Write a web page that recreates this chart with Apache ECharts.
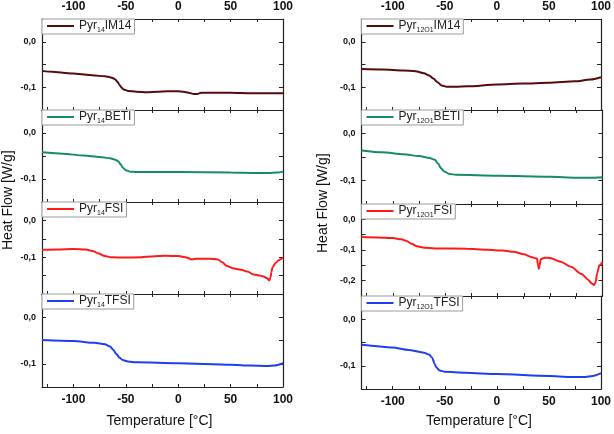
<!DOCTYPE html>
<html>
<head>
<meta charset="utf-8">
<script src="https://cdn.jsdelivr.net/npm/echarts@6/dist/echarts.min.js"></script>
<style>
html,body{margin:0;padding:0;background:#fff;}
#chart{width:614px;height:434px;}
</style>
</head>
<body>
<div id="chart"></div>
<script>
// ---- axis settings ----
const xMin = -130, xMax = 100;
const xTickValues = [-125, -100, -75, -50, -25, 0, 25, 50, 75, 100];
const xLabelValues = [-100, -50, 0, 50, 100];
const xTitle = 'Temperature [°C]';
const yTitle = 'Heat Flow [W/g]';

// ---- legend names: prefix, subscript, suffix ----
const seriesSub = ['14', '14', '14', '14', '12O1', '12O1', '12O1', '12O1'];
const seriesSuffix = ['IM14', 'BETI', 'FSI', 'TFSI', 'IM14', 'BETI', 'FSI', 'TFSI'];
const yMins = [-0.15, -0.15, -0.2, -0.15, -0.15, -0.15, -0.25, -0.15];
const yMaxs = [0.05, 0.05, 0.05, 0.05, 0.05, 0.05, 0.05, 0.05];

// ---- left column (Pyr14) ----
const L_IM14_T = [-130,-120,-110,-100,-90,-80,-70,-65,-62,-60,-58,-56,-54,-52,-48,-40,-30,-20,-10,0,5,10,15,18,22,30,50,70,90,100];
const L_IM14_Q = [-0.064,-0.066,-0.068,-0.070,-0.072,-0.074,-0.076,-0.078,-0.080,-0.083,-0.088,-0.095,-0.101,-0.105,-0.108,-0.110,-0.111,-0.110,-0.109,-0.109,-0.110,-0.112,-0.115,-0.115,-0.112,-0.112,-0.112,-0.113,-0.113,-0.113];

const L_BETI_T = [-130,-110,-90,-75,-65,-60,-57,-55,-53,-50,-46,-40,0,50,75,85,95,100];
const L_BETI_Q = [-0.042,-0.045,-0.049,-0.052,-0.055,-0.058,-0.062,-0.068,-0.075,-0.081,-0.084,-0.085,-0.085,-0.086,-0.087,-0.087,-0.086,-0.084];

const L_FSI_T = [-130,-115,-100,-88,-82,-76,-70,-64,-50,-35,-25,-12,0,8,13,18,30,38,42,46,52,60,66,72,78,82,85,87,88,89,90,93,96,100];
const L_FSI_Q = [-0.080,-0.079,-0.078,-0.079,-0.083,-0.090,-0.097,-0.100,-0.101,-0.100,-0.098,-0.096,-0.097,-0.101,-0.106,-0.104,-0.104,-0.106,-0.114,-0.123,-0.130,-0.134,-0.139,-0.147,-0.150,-0.153,-0.158,-0.163,-0.155,-0.140,-0.127,-0.115,-0.108,-0.101];

const L_TFSI_T = [-130,-100,-80,-70,-65,-62,-59,-56,-53,-48,-40,0,50,70,85,92,100];
const L_TFSI_Q = [-0.049,-0.051,-0.055,-0.058,-0.063,-0.070,-0.079,-0.087,-0.092,-0.095,-0.097,-0.099,-0.102,-0.104,-0.105,-0.104,-0.099];

// ---- right column (Pyr12O1) ----
const R_IM14_T = [-130,-110,-90,-78,-70,-65,-61,-57,-53,-48,-40,-28,0,25,50,75,90,100];
const R_IM14_Q = [-0.060,-0.061,-0.063,-0.065,-0.069,-0.074,-0.081,-0.089,-0.096,-0.099,-0.099,-0.098,-0.094,-0.092,-0.090,-0.087,-0.083,-0.078];

const R_BETI_T = [-130,-110,-90,-75,-65,-60,-57,-54,-51,-46,-40,0,50,75,90,100];
const R_BETI_Q = [-0.036,-0.040,-0.044,-0.048,-0.052,-0.056,-0.064,-0.074,-0.081,-0.086,-0.088,-0.090,-0.092,-0.094,-0.094,-0.093];

const R_FSI_T = [-130,-115,-100,-92,-87,-82,-77,-70,-55,-30,-10,5,15,25,32,36,37.5,38.5,39.2,40,41,45,50,60,70,80,86,90,92,93.5,95,97,100];
const R_FSI_Q = [-0.058,-0.059,-0.061,-0.065,-0.071,-0.080,-0.088,-0.093,-0.095,-0.096,-0.099,-0.102,-0.106,-0.114,-0.123,-0.127,-0.128,-0.150,-0.161,-0.150,-0.130,-0.125,-0.126,-0.138,-0.155,-0.178,-0.196,-0.210,-0.214,-0.205,-0.175,-0.150,-0.139];

const R_TFSI_T = [-130,-115,-100,-85,-70,-65,-62,-60,-58,-55,-50,-30,0,50,70,85,92,100];
const R_TFSI_Q = [-0.055,-0.058,-0.061,-0.066,-0.072,-0.076,-0.083,-0.095,-0.104,-0.110,-0.113,-0.115,-0.118,-0.122,-0.124,-0.124,-0.122,-0.116];

const seriesT = [L_IM14_T, L_BETI_T, L_FSI_T, L_TFSI_T, R_IM14_T, R_BETI_T, R_FSI_T, R_TFSI_T];
const seriesQ = [L_IM14_Q, L_BETI_Q, L_FSI_Q, L_TFSI_Q, R_IM14_Q, R_BETI_Q, R_FSI_Q, R_TFSI_Q];

// ---- layout / style ----
const colors = ['#560b0b', '#178c64', '#ff1a1a', '#1f3fef'];
const colLeft = [42, 361.5];
const colWidth = 241;
const rowTops = [[19, 110, 202, 294, 387], [19, 110, 204, 296, 389]];
const frameColor = '#222';
const font = 'Liberation Sans, Arial, sans-serif';

const grids = [], xAxes = [], yAxes = [], series = [], legends = [];

for (let i = 0; i < 8; i++) {
  const side = i < 4 ? 0 : 1;
  const row = i % 4;
  const top = rowTops[side][row];
  const h = rowTops[side][row + 1] - top;
  grids.push({ left: colLeft[side], width: colWidth, top: top, height: h, show: false });

  const baseX = {
    gridIndex: i, type: 'value', min: xMin, max: xMax,
    axisLine: { show: true, onZero: false, lineStyle: { color: frameColor, width: 1.2 } },
    axisTick: { show: true, inside: true, length: 3, customValues: xTickValues, lineStyle: { color: frameColor } },
    splitLine: { show: false }
  };
  xAxes.push(Object.assign({}, baseX, {
    position: 'bottom',
    axisLabel: { show: row === 3, customValues: xLabelValues, fontFamily: font, fontWeight: 'bold', fontSize: 12, color: '#111', margin: 7 }
  }));
  xAxes.push(Object.assign({}, baseX, {
    position: 'top',
    axisLabel: { show: row === 0, customValues: xLabelValues, fontFamily: font, fontWeight: 'bold', fontSize: 12, color: '#111', margin: 6 }
  }));

  const ymin = yMins[i], ymax = yMaxs[i];
  const baseY = {
    gridIndex: i, type: 'value', min: ymin, max: ymax, interval: 0.05,
    axisLine: { show: true, onZero: false, lineStyle: { color: frameColor, width: 1.2 } },
    axisTick: { show: true, inside: true, length: 4, lineStyle: { color: frameColor } },
    splitLine: { show: false }
  };
  yAxes.push(Object.assign({}, baseY, {
    position: 'left',
    axisLabel: {
      show: true, fontFamily: font, fontWeight: 'bold', fontSize: 9, color: '#111', margin: 6,
      formatter: function (v) {
        const r = Math.round(v * 100) / 100;
        const tenth = Math.round(r * 10);
        if (Math.abs(r * 10 - tenth) > 1e-6) return '';
        if (r <= ymin + 1e-6 || r >= ymax - 1e-6) return '';
        return (tenth / 10).toFixed(1).replace('.', ',');
      }
    }
  }));
  yAxes.push(Object.assign({}, baseY, { position: 'right', axisLabel: { show: false } }));

  const name = 'Pyr' + seriesSub[i] + seriesSuffix[i];
  const data = seriesT[i].map((t, k) => [t, seriesQ[i][k]]);
  series.push({
    name: name, type: 'line', xAxisIndex: 2 * i, yAxisIndex: 2 * i,
    data: data, showSymbol: false, symbol: 'none', smooth: 0.25, smoothMonotone: 'x',
    lineStyle: { width: 2, color: colors[row] }, itemStyle: { color: colors[row] }
  });

  const sub = seriesSub[i], suf = seriesSuffix[i];
  legends.push({
    data: [name], left: colLeft[side], top: top, orient: 'horizontal',
    icon: 'rect', itemWidth: 27, itemHeight: 2, itemGap: 0,
    padding: [1, 3, 0, 5], borderColor: '#9a9a9a', borderWidth: 1, backgroundColor: '#fff',
    selectedMode: false,
    formatter: function () { return '{m|Pyr}{s|' + sub + '}{m|' + suf + '}'; },
    textStyle: {
      fontFamily: font, fontSize: 12, color: '#222',
      rich: {
        m: { fontFamily: font, fontSize: 12, color: '#222', lineHeight: 16, verticalAlign: 'middle' },
        s: { fontFamily: font, fontSize: 7, color: '#222', lineHeight: 16, verticalAlign: 'bottom' }
      }
    }
  });
}

const chart = echarts.init(document.getElementById('chart'), null, { renderer: 'canvas' });
chart.setOption({
  animation: false,
  backgroundColor: '#fff',
  grid: grids, xAxis: xAxes, yAxis: yAxes, series: series, legend: legends,
  graphic: [
    { type: 'text', left: 162.5 - 56, top: 414, style: { text: xTitle, font: '14px ' + font, fill: '#111' } },
    { type: 'text', left: 482 - 56, top: 414, style: { text: xTitle, font: '14px ' + font, fill: '#111' } },
    { type: 'text', x: 1, y: 250, rotation: Math.PI / 2, style: { text: yTitle, font: '14px ' + font, fill: '#111' } },
    { type: 'text', x: 316, y: 253, rotation: Math.PI / 2, style: { text: yTitle, font: '14px ' + font, fill: '#111' } }
  ]
});
</script>
</body>
</html>
